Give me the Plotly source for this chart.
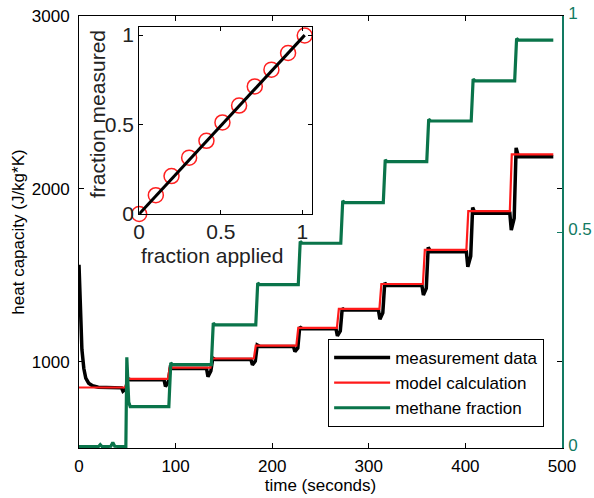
import plotly.graph_objects as go

# ---------------- data ----------------
# model calculation (red): step times (s) and plateau levels (J/kg*K)
model_step_t = [48, 92, 136, 181, 225, 267, 311, 356, 401, 446]
model_levels = [850, 900, 965, 1018, 1092, 1195, 1305, 1449, 1646, 1871, 2199]

# measurement data (black): start transient, step times, plateaus, dips, overshoots
meas_start_t = [0, 1, 2, 3, 5, 7, 10, 14, 20]
meas_start_v = [1560, 1400, 1200, 1070, 960, 905, 875, 860, 852]
meas_step_t = [50, 94, 138, 184, 228, 272, 316, 361, 407, 452]
meas_levels = [848, 895, 960, 1012, 1088, 1190, 1298, 1440, 1635, 1858, 2185]
meas_dips = [829, 856, 913, 981, 1058, 1149, 1245, 1385, 1549, 1761]
meas_peaks = [900, 966, 1020, 1096, 1200, 1308, 1455, 1662, 1892, 2237]

# methane fraction (green, right axis)
meth_start_t = [0, 20, 22, 24, 33, 35, 37]
meth_start_v = [0.003, 0.003, 0.008, 0.003, 0.004, 0.013, 0.004]
meth_spike = 0.21
meth_step_t = [50, 94, 138, 184, 228, 272, 316, 361, 407, 452]
meth_levels = [0.003, 0.096, 0.193, 0.285, 0.378, 0.474, 0.568, 0.663, 0.757, 0.85, 0.944]
t_end = 491

# inset: fraction applied vs fraction measured
frac_applied = [0, 0.102, 0.198, 0.306, 0.412, 0.51, 0.612, 0.708, 0.81, 0.912, 1.014]
frac_measured = [0.0, 0.105, 0.212, 0.315, 0.409, 0.512, 0.606, 0.713, 0.807, 0.9, 0.998]
fit_x = [0, 1.014]
fit_y = [0, 1.0]

# ---------------- build step series ----------------
mx, my = [0], [model_levels[0]]
for i, ts in enumerate(model_step_t):
    mx += [ts, ts + 2]
    my += [model_levels[i], model_levels[i + 1]]
mx.append(t_end)
my.append(model_levels[-1])

bx, by = list(meas_start_t), list(meas_start_v)
for i, ts in enumerate(meas_step_t):
    prev = meas_levels[i]
    bx += [ts - 6, ts - 4.5, ts - 1.5, ts + 0.5, ts + 3]
    by += [prev, meas_dips[i], prev - 0.3 * (prev - meas_dips[i]), meas_peaks[i], meas_levels[i + 1]]
bx.append(t_end)
by.append(meas_levels[-1])

gx, gy = list(meth_start_t), list(meth_start_v)
for i, ts in enumerate(meth_step_t):
    if i == 0:
        gx += [ts - 1.5, ts - 0.5, ts + 1.5, ts + 3]
        gy += [meth_levels[0], meth_spike, meth_levels[1] + 0.01, meth_levels[1]]
    else:
        gx += [ts - 1, ts + 1, ts + 3]
        gy += [meth_levels[i], meth_levels[i + 1] + 0.004, meth_levels[i + 1]]
gx.append(t_end)
gy.append(meth_levels[-1])

GREEN = "#0a744a"
AXGREEN = "#127a62"
FONT = "Liberation Sans, Arial, sans-serif"

fig = go.Figure()
fig.add_trace(go.Scatter(x=bx, y=by, mode="lines", name="measurement data",
                         line=dict(color="black", width=3.5), xaxis="x", yaxis="y"))
fig.add_trace(go.Scatter(x=mx, y=my, mode="lines", name="model calculation",
                         line=dict(color="#ff1a1a", width=2.2), xaxis="x", yaxis="y"))
fig.add_trace(go.Scatter(x=gx, y=gy, mode="lines", name="methane fraction",
                         line=dict(color=GREEN, width=3.2), xaxis="x", yaxis="y2"))
fig.add_trace(go.Scatter(x=[], y=[], mode="lines", showlegend=False, xaxis="x", yaxis="y3"))

# inset
fig.add_trace(go.Scatter(x=frac_applied, y=frac_measured, mode="markers", showlegend=False,
                         marker=dict(symbol="circle-open", size=15, color="#ff2020",
                                     line=dict(width=1.5, color="#ff2020")),
                         cliponaxis=False, xaxis="x2", yaxis="y4"))
fig.add_trace(go.Scatter(x=fit_x, y=fit_y, mode="lines", showlegend=False,
                         line=dict(color="black", width=3), cliponaxis=False,
                         xaxis="x2", yaxis="y4"))

tickfont = dict(family=FONT, size=17, color="black")
insetfont = dict(family=FONT, size=21, color="#222")

fig.update_layout(
    width=594, height=498,
    margin=dict(l=79, r=32, t=16, b=50, autoexpand=False),
    paper_bgcolor="white", plot_bgcolor="white",
    font=dict(family=FONT, size=17, color="black"),
    xaxis=dict(domain=[0, 1], range=[0, 500], tickvals=[0, 100, 200, 300, 400, 500],
               ticks="inside", ticklen=5, tickcolor="black", showline=True, linecolor="black",
               linewidth=1, mirror="ticks", showgrid=False, zeroline=False, tickfont=tickfont,
               automargin=False, ticklabelstandoff=3,
               title=dict(text="time (seconds)", font=dict(family=FONT, size=17), standoff=3),
               anchor="y"),
    yaxis=dict(domain=[0, 1], range=[500, 3000], tickvals=[1000, 2000, 3000],
               ticks="inside", ticklen=5, tickcolor="black", showline=True, linecolor="black",
               linewidth=1, showgrid=False, zeroline=False, tickfont=tickfont,
               automargin=False, ticklabelstandoff=5,
               title=dict(text="heat capacity (J/kg*K)", font=dict(family=FONT, size=17), standoff=2),
               anchor="x"),
    yaxis2=dict(overlaying="y", side="right", range=[0, 1], tickvals=[0, 0.5, 1],
                ticktext=["0", "0.5", "1"], ticks="inside", ticklen=5, tickcolor=AXGREEN,
                showline=True, linecolor=AXGREEN, linewidth=1.5, showgrid=False, zeroline=False,
                automargin=False, ticklabelstandoff=1, ticklabelshift=-3,
                tickfont=dict(family=FONT, size=17, color=AXGREEN), anchor="x"),
    yaxis3=dict(overlaying="y", side="right", range=[500, 3000], tickvals=[1000, 2000],
                ticks="inside", ticklen=5, tickcolor="black", showticklabels=False,
                automargin=False,
                showline=False, showgrid=False, zeroline=False, anchor="x"),
    xaxis2=dict(domain=[0.1246, 0.4829], range=[0, 1.06], tickvals=[0, 0.5, 1],
                ticktext=["0", "0.5", "1"], ticks="inside", ticklen=4, tickcolor="black",
                showline=True, linecolor="black", linewidth=1, mirror="ticks",
                showgrid=False, zeroline=False, tickfont=insetfont, automargin=False,
                ticklabelstandoff=-1, anchor="y4"),
    yaxis4=dict(domain=[0.5417, 0.9752], range=[0, 1.047], tickvals=[0, 0.5, 1],
                ticktext=["0", "0.5", "1"], ticks="inside", ticklen=4, tickcolor="black",
                showline=True, linecolor="black", linewidth=1, mirror="ticks",
                showgrid=False, zeroline=False, tickfont=insetfont, automargin=False,
                anchor="x2"),
    annotations=[
        dict(text="fraction applied", xref="paper", yref="paper", x=0.2754, y=0.4445,
             xanchor="center", yanchor="middle", showarrow=False, font=insetfont),
        dict(text="fraction measured", xref="paper", yref="paper", x=0.0373, y=0.773,
             xanchor="center", yanchor="middle", textangle=-90, showarrow=False, font=insetfont),
    ],
    legend=dict(x=0.963, xanchor="right", y=0.0486, yanchor="bottom",
                bgcolor="white", bordercolor="black", borderwidth=1, itemwidth=56,
                font=dict(family=FONT, size=17, color="black"), tracegroupgap=0),
    showlegend=True,
)

fig.write_html("out.html", config={"displayModeBar": False},
               post_script="document.body.style.margin='0';")
